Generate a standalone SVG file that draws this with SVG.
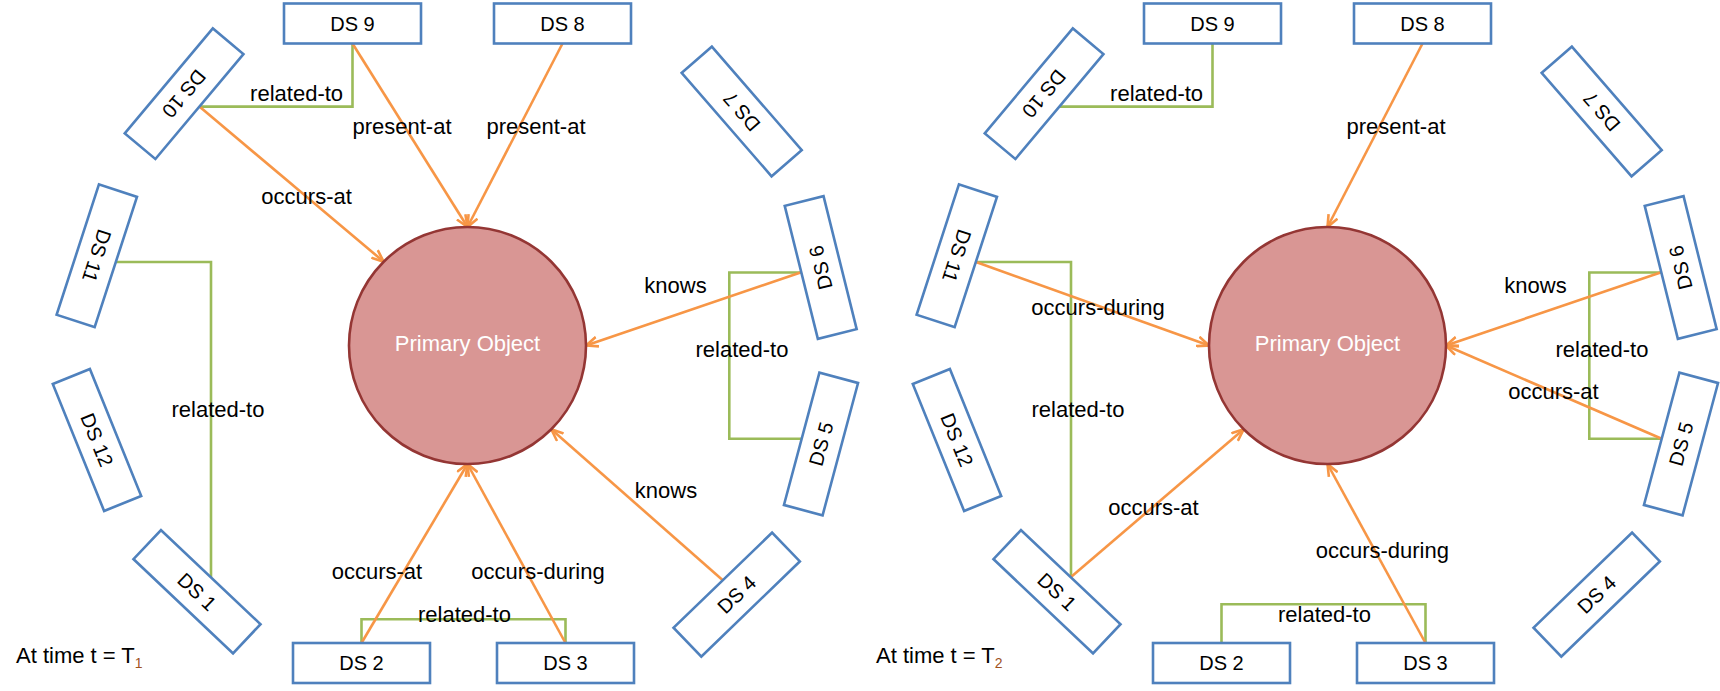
<svg xmlns="http://www.w3.org/2000/svg" width="1720" height="691" viewBox="0 0 1720 691">
<style>
  .box{fill:#fff;stroke:#4F81BD;stroke-width:2.6}
  .ds{font-family:"Liberation Sans",Arial,sans-serif;font-size:20px;fill:#000;text-anchor:middle}
  .lbl{font-family:"Liberation Sans",Arial,sans-serif;font-size:22px;fill:#000;text-anchor:middle}
  .obj{fill:#D99694;stroke:#943634;stroke-width:2.6}
  .objt{font-family:"Liberation Sans",Arial,sans-serif;font-size:22px;fill:#fff;text-anchor:middle}
  .g{fill:none;stroke:#9BBB59;stroke-width:2.6}
  .o{fill:none;stroke:#F79646;stroke-width:2.6;marker-end:url(#arr)}
  .time{font-family:"Liberation Sans",Arial,sans-serif;font-size:22px;fill:#000}
</style>
<defs>
  <marker id="arr" viewBox="0 0 14 12" refX="12.5" refY="6" markerWidth="14" markerHeight="12" markerUnits="userSpaceOnUse" orient="auto">
    <path d="M0.5,1 L12.5,6 L0.5,11" fill="none" stroke="#F79646" stroke-width="2.6"/>
  </marker>
</defs>
<rect width="1720" height="691" fill="#fff"/>

<!-- ===== LEFT PANEL (T1) ===== -->
<g id="left-connectors">
  <polyline class="g" points="352.5,43.5 352.5,106.6 199.4,106.6"/>
  <polyline class="g" points="116,262 211,262 211,577.2"/>
  <polyline class="g" points="801.3,272.5 729.3,272.5 729.3,438.7 801.7,438.7"/>
  <polyline class="g" points="361.5,643 361.5,619.3 565.5,619.3 565.5,643"/>
  <line class="o" x1="199.4" y1="106.6" x2="383.7" y2="261.7"/>
  <line class="o" x1="352.5" y1="43.5" x2="467.5" y2="227"/>
  <line class="o" x1="562.5" y1="43.5" x2="467.5" y2="227"/>
  <line class="o" x1="801.3" y1="272.3" x2="586" y2="345.5"/>
  <line class="o" x1="722.8" y1="580.2" x2="551.3" y2="429.3"/>
  <line class="o" x1="361.5" y1="643" x2="467.5" y2="464"/>
  <line class="o" x1="565.5" y1="643" x2="467.5" y2="464"/>
  <text class="lbl" x="296.6" y="100.5">related-to</text>
  <text class="lbl" x="402" y="134">present-at</text>
  <text class="lbl" x="536" y="134">present-at</text>
  <text class="lbl" x="306.6" y="204">occurs-at</text>
  <text class="lbl" x="218" y="416.7">related-to</text>
  <text class="lbl" x="675.5" y="293">knows</text>
  <text class="lbl" x="742" y="357">related-to</text>
  <text class="lbl" x="666" y="498">knows</text>
  <text class="lbl" x="377" y="579.3">occurs-at</text>
  <text class="lbl" x="538" y="579.3">occurs-during</text>
  <text class="lbl" x="464.5" y="621.7">related-to</text>
</g>
<g id="L-primary">
  <circle class="obj" cx="467.5" cy="345.5" r="118.5"/>
  <text class="objt" x="467.5" y="351">Primary Object</text>
</g>
<g id="L-ds9"><rect class="box" x="284" y="3.5" width="137" height="40"/><text class="ds" x="352.5" y="30.5">DS 9</text></g>
<g id="L-ds8"><rect class="box" x="494" y="3.5" width="137" height="40"/><text class="ds" x="562.5" y="30.5">DS 8</text></g>
<g id="L-ds2"><rect class="box" x="293" y="643" width="137" height="40"/><text class="ds" x="361.5" y="670">DS 2</text></g>
<g id="L-ds3"><rect class="box" x="497" y="643" width="137" height="40"/><text class="ds" x="565.5" y="670">DS 3</text></g>
<g id="L-ds1" transform="translate(197,591.7) rotate(43.4)"><rect class="box" x="-68.5" y="-20" width="137" height="40"/><text class="ds" x="0" y="7">DS 1</text></g>
<g id="L-ds4" transform="translate(736.7,594.6) rotate(-44)"><rect class="box" x="-68.5" y="-20" width="137" height="40"/><text class="ds" x="0" y="7">DS 4</text></g>
<g id="L-ds5" transform="translate(821,444) rotate(-75)"><rect class="box" x="-68.5" y="-20" width="137" height="40"/><text class="ds" x="0" y="7">DS 5</text></g>
<g id="L-ds6" transform="translate(820.7,267.5) rotate(-104)"><rect class="box" x="-68.5" y="-20" width="137" height="40"/><text class="ds" x="0" y="7">DS 6</text></g>
<g id="L-ds7" transform="translate(741.7,111.5) rotate(-131)"><rect class="box" x="-68.5" y="-20" width="137" height="40"/><text class="ds" x="0" y="7">DS 7</text></g>
<g id="L-ds10" transform="translate(184.1,93.7) rotate(130)"><rect class="box" x="-68.5" y="-20" width="137" height="40"/><text class="ds" x="0" y="7">DS 10</text></g>
<g id="L-ds11" transform="translate(96.8,255.8) rotate(108)"><rect class="box" x="-68.5" y="-20" width="137" height="40"/><text class="ds" x="0" y="7">DS 11</text></g>
<g id="L-ds12" transform="translate(97,440) rotate(68)"><rect class="box" x="-68.5" y="-20" width="137" height="40"/><text class="ds" x="0" y="7">DS 12</text></g>
<text id="L-time" class="time" x="16" y="663.3">At time t = T<tspan font-size="14" dy="5" fill="#A0521E">1</tspan></text>

<!-- ===== RIGHT PANEL (T2) ===== -->
<g id="right-connectors">
  <polyline class="g" points="1212.5,43.5 1212.5,106.6 1059.4,106.6"/>
  <polyline class="g" points="976,262 1071,262 1071,577.2"/>
  <polyline class="g" points="1661.3,272.5 1589.3,272.5 1589.3,438.7 1661.7,438.7"/>
  <polyline class="g" points="1221.5,643 1221.5,604.3 1425.5,604.3 1425.5,643"/>
  <line class="o" x1="1422.5" y1="43.5" x2="1327.5" y2="227"/>
  <line class="o" x1="976" y1="262" x2="1209" y2="345.5"/>
  <line class="o" x1="1070.7" y1="577.2" x2="1243.7" y2="429.3"/>
  <line class="o" x1="1661.3" y1="272.3" x2="1446" y2="345.5"/>
  <line class="o" x1="1661.7" y1="438.8" x2="1446" y2="345.5"/>
  <line class="o" x1="1425.5" y1="643" x2="1327.5" y2="464"/>
  <text class="lbl" x="1156.6" y="100.5">related-to</text>
  <text class="lbl" x="1396" y="134">present-at</text>
  <text class="lbl" x="1098" y="315">occurs-during</text>
  <text class="lbl" x="1078" y="416.7">related-to</text>
  <text class="lbl" x="1153.4" y="515">occurs-at</text>
  <text class="lbl" x="1535.5" y="293">knows</text>
  <text class="lbl" x="1602" y="357">related-to</text>
  <text class="lbl" x="1553.5" y="399.3">occurs-at</text>
  <text class="lbl" x="1382.3" y="558.3">occurs-during</text>
  <text class="lbl" x="1324.5" y="621.7">related-to</text>
</g>
<g id="R-primary">
  <circle class="obj" cx="1327.5" cy="345.5" r="118.5"/>
  <text class="objt" x="1327.5" y="351">Primary Object</text>
</g>
<g id="R-ds9"><rect class="box" x="1144" y="3.5" width="137" height="40"/><text class="ds" x="1212.5" y="30.5">DS 9</text></g>
<g id="R-ds8"><rect class="box" x="1354" y="3.5" width="137" height="40"/><text class="ds" x="1422.5" y="30.5">DS 8</text></g>
<g id="R-ds2"><rect class="box" x="1153" y="643" width="137" height="40"/><text class="ds" x="1221.5" y="670">DS 2</text></g>
<g id="R-ds3"><rect class="box" x="1357" y="643" width="137" height="40"/><text class="ds" x="1425.5" y="670">DS 3</text></g>
<g id="R-ds1" transform="translate(1057,591.7) rotate(43.4)"><rect class="box" x="-68.5" y="-20" width="137" height="40"/><text class="ds" x="0" y="7">DS 1</text></g>
<g id="R-ds4" transform="translate(1596.7,594.6) rotate(-44)"><rect class="box" x="-68.5" y="-20" width="137" height="40"/><text class="ds" x="0" y="7">DS 4</text></g>
<g id="R-ds5" transform="translate(1681,444) rotate(-75)"><rect class="box" x="-68.5" y="-20" width="137" height="40"/><text class="ds" x="0" y="7">DS 5</text></g>
<g id="R-ds6" transform="translate(1680.7,267.5) rotate(-104)"><rect class="box" x="-68.5" y="-20" width="137" height="40"/><text class="ds" x="0" y="7">DS 6</text></g>
<g id="R-ds7" transform="translate(1601.7,111.5) rotate(-131)"><rect class="box" x="-68.5" y="-20" width="137" height="40"/><text class="ds" x="0" y="7">DS 7</text></g>
<g id="R-ds10" transform="translate(1044.1,93.7) rotate(130)"><rect class="box" x="-68.5" y="-20" width="137" height="40"/><text class="ds" x="0" y="7">DS 10</text></g>
<g id="R-ds11" transform="translate(956.8,255.8) rotate(108)"><rect class="box" x="-68.5" y="-20" width="137" height="40"/><text class="ds" x="0" y="7">DS 11</text></g>
<g id="R-ds12" transform="translate(957,440) rotate(68)"><rect class="box" x="-68.5" y="-20" width="137" height="40"/><text class="ds" x="0" y="7">DS 12</text></g>
<text id="R-time" class="time" x="876" y="663.3">At time t = T<tspan font-size="14" dy="5" fill="#A0521E">2</tspan></text>
</svg>
